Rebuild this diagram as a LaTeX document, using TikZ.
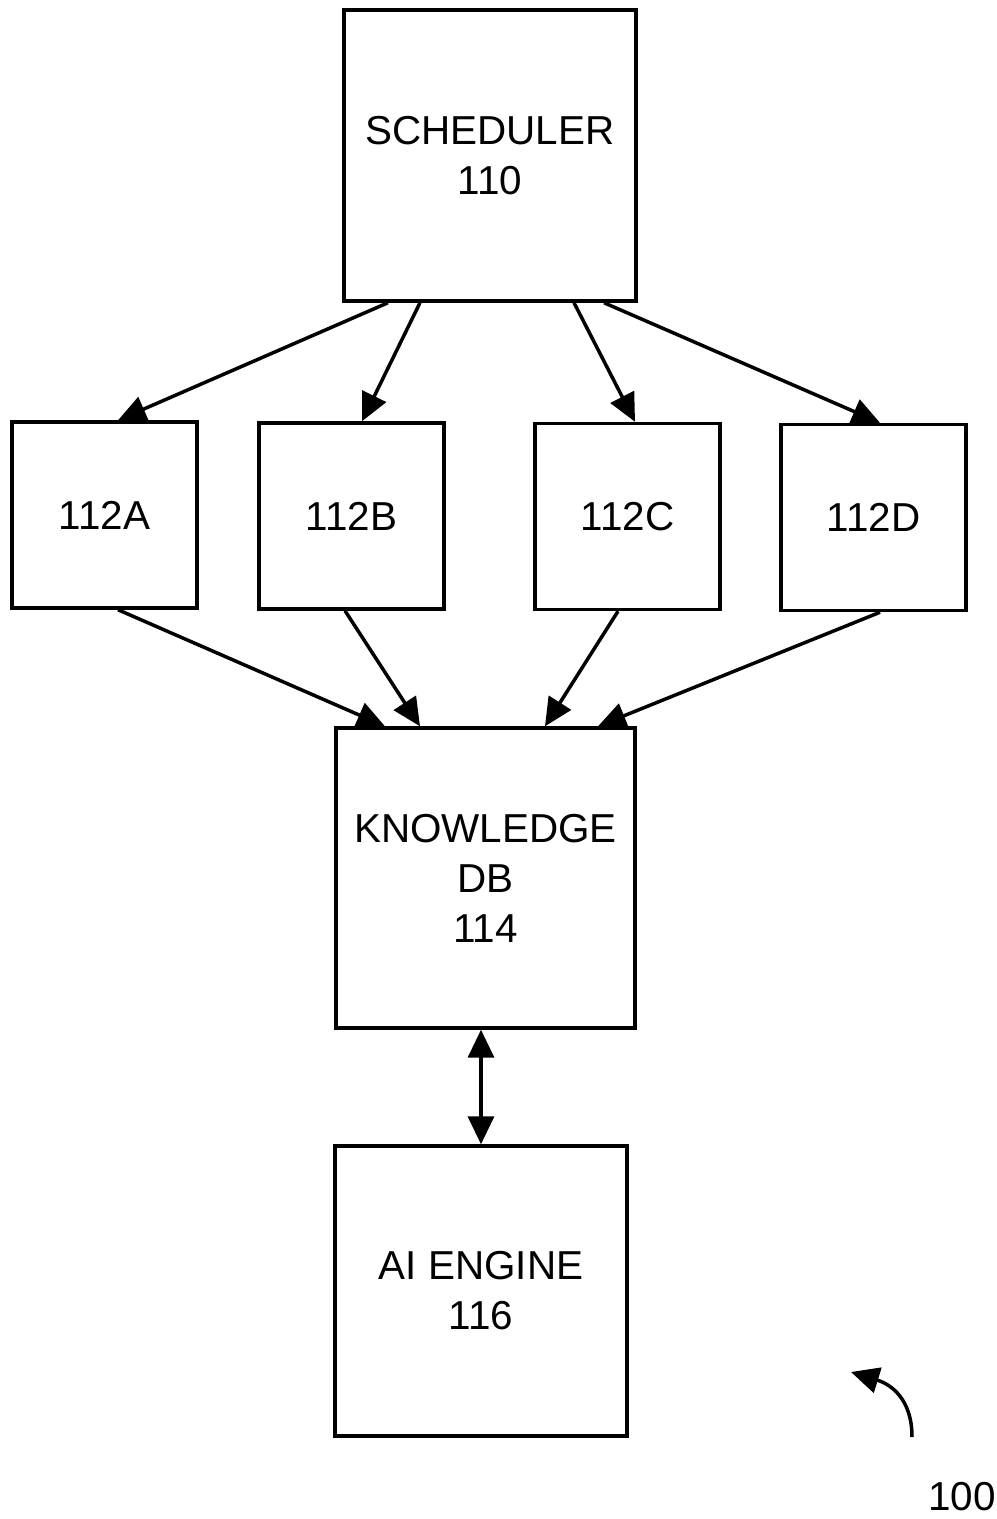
\documentclass[tikz,border=0pt]{standalone}
\usepackage{fontspec}
\setmainfont{Liberation Sans}
\usetikzlibrary{arrows.meta,calc}

\tikzset{
  blk/.style={draw, black, line width=0.07cm, align=center, inner sep=0pt,
    font=\fontsize{23}{28.5}\selectfont},
  arr/.style={-{Triangle[length=0.56cm,width=0.52cm]}, line width=0.07cm, black}
}

\begin{document}
\begin{tikzpicture}[x=0.02cm, y=-0.02cm]
\useasboundingbox (0,0) rectangle (997,1519);
\node [blk, minimum width=5.84cm, minimum height=5.82cm] (sched) at (490,155.5) {SCHEDULER\\110};
\node [blk, minimum width=3.7cm, minimum height=3.72cm] (a) at (104.5,515) {112A};
\node [blk, minimum width=3.7cm, minimum height=3.72cm] (b) at (351.5,516) {112B};
\node [blk, minimum width=3.7cm, minimum height=3.72cm] (c) at (627.5,516.5) {112C};
\node [blk, minimum width=3.7cm, minimum height=3.72cm] (d) at (873.5,517.5) {112D};
\node [blk, minimum width=5.98cm, minimum height=6cm] (kdb) at (485.5,878) {KNOWLEDGE\\DB\\114};
\node [blk, minimum width=5.84cm, minimum height=5.8cm] (ai) at (481,1291) {AI ENGINE\\116};
\node [font=\fontsize{23}{28.5}\selectfont] (ref) at (962,1497) {100};

\draw [arr] ($(sched.south)+(-102,0)$) -- ($(a.north)+(13.5,0)$);
\draw [arr] ($(sched.south)+(-70,0)$) -- ($(b.north)+(10.5,0)$);
\draw [arr] ($(sched.south)+(84,0)$) -- ($(c.north)+(7.5,0)$);
\draw [arr] ($(sched.south)+(114,0)$) -- ($(d.north)+(6.5,0)$);

\draw [arr] ($(a.south)+(13.5,0)$) -- ($(kdb.north)+(-100.5,0)$);
\draw [arr] ($(b.south)+(-6.5,0)$) -- ($(kdb.north)+(-65.5,0)$);
\draw [arr] ($(c.south)+(-9.5,0)$) -- ($(kdb.north)+(59.5,0)$);
\draw [arr] ($(d.south)+(6.5,0)$) -- ($(kdb.north)+(112.5,0)$);

\draw [arr, {Triangle[length=0.56cm,width=0.52cm]}-{Triangle[length=0.56cm,width=0.52cm]}] (ai.north |- kdb.south) -- (ai.north);

\coordinate (tail) at (912,1437);
\draw [arr] (tail) .. controls (912,1398) and (890,1384) .. (851,1372);
\end{tikzpicture}
\end{document}
